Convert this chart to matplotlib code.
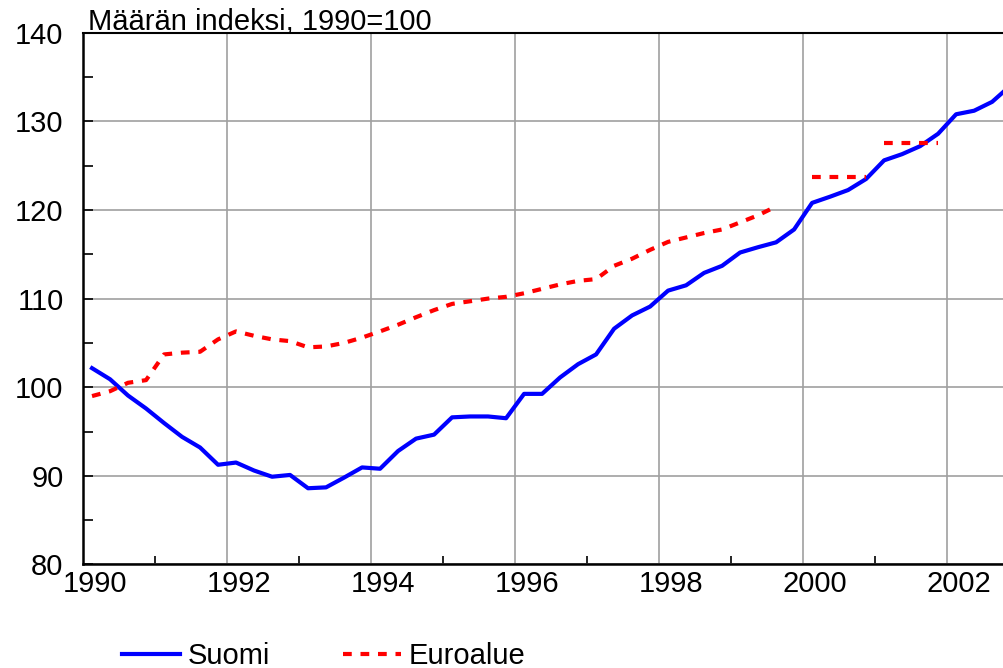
import numpy as np
import matplotlib.pyplot as plt
from matplotlib.transforms import ScaledTranslation

plt.rcParams['font.family'] = ['Liberation Sans', 'DejaVu Sans']

# quarterly index, 1990=100
years = list(range(1990, 2003))
quarters = [y + (q + 0.5) / 4 for y in years for q in range(4)]

suomi = [
    102.15, 100.9, 99.06, 97.6,
    95.96, 94.4, 93.2, 91.25,
    91.5, 90.6, 89.9, 90.1,
    88.6, 88.7, 89.8, 90.95,
    90.8, 92.8, 94.2, 94.65,
    96.6, 96.7, 96.7, 96.5,
    99.25, 99.25, 101.1, 102.6,
    103.7, 106.6, 108.1, 109.1,
    110.9, 111.5, 112.9, 113.7,
    115.2, 115.8, 116.35, 117.8,
    120.8, 121.5, 122.25, 123.5,
    125.6, 126.3, 127.2, 128.6,
    130.8, 131.2, 132.2, 134.0,
]

# euro area quarterly up to 1999 Q3
euroalue = [
    99.0, 99.55, 100.5, 100.8,
    103.7, 103.9, 104.0, 105.4,
    106.3, 105.8, 105.4, 105.2,
    104.5, 104.6, 105.0, 105.6,
    106.3, 107.05, 107.9, 108.7,
    109.4, 109.7, 110.0, 110.2,
    110.6, 111.1, 111.6, 112.0,
    112.2, 113.7, 114.5, 115.5,
    116.4, 116.9, 117.4, 117.8,
    118.6, 119.4, 120.4,
]
# euro area annual level for 2000 and 2001 (drawn flat over the year)
euro_years = [2000, 2001]
euro_annual = [123.7, 127.6]

xticks = list(range(1990, 2003, 2))
yticks = list(range(80, 141, 10))

fig = plt.figure(figsize=(10.04, 6.68), dpi=100)
ax = fig.add_axes([0.0827, 0.155, 0.9173, 0.796])

red_style = dict(color='#ff0000', lw=3.0, dashes=(2.1, 2.1), dash_capstyle='butt')

ax.plot(quarters, suomi, color='#0000ff', lw=3.0, label='Suomi')
ax.plot(quarters[:len(euroalue)], euroalue, label='Euroalue', **red_style)
for yr, val in zip(euro_years, euro_annual):
    i = quarters.index(yr + 0.125)
    ax.plot(quarters[i:i + 4], [val] * 4, **red_style)

ax.set_xlim(1990, 2002.79)
ax.set_ylim(80, 140)
ax.set_xticks(xticks)
ax.set_xticks(range(1991, 2003, 2), minor=True)
ax.set_yticks(yticks)
ax.set_yticks(range(85, 140, 10), minor=True)
ax.grid(True, which='major', color='#a0a0a0', lw=1.2)
ax.set_axisbelow(True)

ax.tick_params(axis='x', which='major', length=0, pad=4, labelsize=21)
ax.tick_params(axis='x', which='minor', direction='in', length=6, width=1.2)
ax.tick_params(axis='y', which='both', direction='in', length=7, width=1.2)
ax.tick_params(axis='y', which='major', pad=14, labelsize=21)

# Excel-style year labels sit a bit right of the grid line
offset = ScaledTranslation(12 / 100, 0, fig.dpi_scale_trans)
for lab in ax.get_xticklabels():
    lab.set_transform(lab.get_transform() + offset)

for side in ['left', 'bottom']:
    ax.spines[side].set_linewidth(1.8)
ax.spines['top'].set_linewidth(1.5)
ax.spines['right'].set_visible(False)

fig.text(0.088, 0.955, 'Määrän indeksi, 1990=100', fontsize=21, va='baseline', ha='left')

fig.legend(loc='center', bbox_to_anchor=(0.322, 0.018), ncol=2, frameon=False,
           fontsize=21, handlelength=2.0, handletextpad=0.25, columnspacing=2.5,
           borderpad=0, borderaxespad=0)

fig.savefig('out.png', dpi=100)
